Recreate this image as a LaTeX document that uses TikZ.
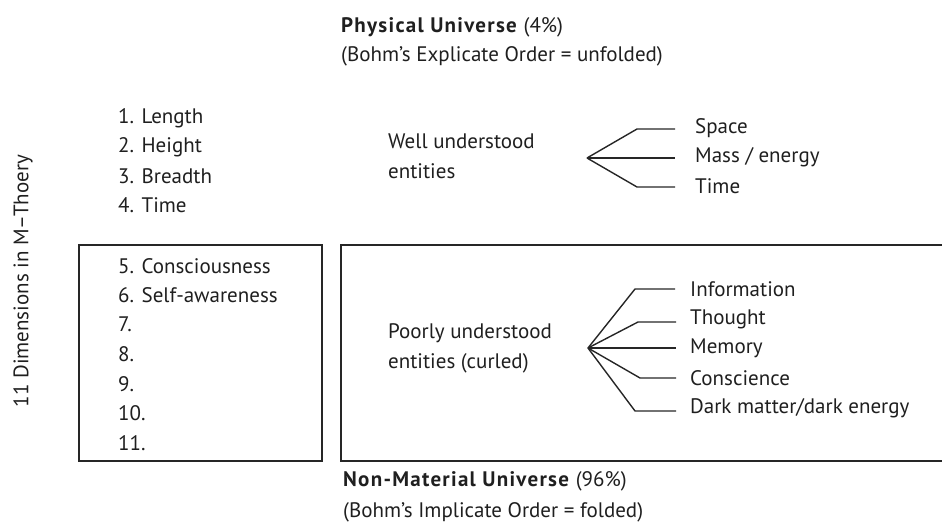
\documentclass[tikz,border=0pt]{standalone}
\usepackage{fontspec}
\setmainfont{PT Sans}[BoldFeatures={LetterSpace=6}]
\begin{document}
\begin{tikzpicture}[x=1pt,y=-1pt,
  txt/.style={anchor=west,inner sep=0pt,text=black!88,font=\fontsize{21}{30}\selectfont},
  boxline/.style={line width=2pt,draw=black!85},
  branch/.style={line width=1.4pt,draw=black!85}]
\useasboundingbox (0,0) rectangle (942,527);
% titles
\node[txt] (phys) at (341,27) {\textbf{Physical Universe} (4\%)};
\node[txt] (expl) at (341,56) {(Bohm’s Explicate Order = unfolded)};
\node[txt] (nonm) at (343,481) {\textbf{Non-Material Universe} (96\%)};
\node[txt] (impl) at (343,512) {(Bohm’s Implicate Order = folded)};
% side label
\node[txt,anchor=center,rotate=90] (dims) at (23,281) {11 Dimensions in M–Thoery};
% list
\node[txt] (d1) at (118,118) {1. Length};
\node[txt] (d2) at (118,147) {2. Height};
\node[txt] (d3) at (118,176) {3. Breadth};
\node[txt] (d4) at (118,205) {4. Time};
\node[txt] (d5) at (118,266) {5. Consciousness};
\node[txt] (d6) at (118,295) {6. Self-awareness};
\node[txt] (d7) at (118,324) {7.};
\node[txt] (d8) at (118,354) {8.};
\node[txt] (d9) at (118,384) {9.};
\node[txt] (d10) at (118,413) {10.};
\node[txt] (d11) at (118,443) {11.};
% boxes
\draw[boxline] (79,245) rectangle (322,461);
\draw[boxline] (942,245) -- (341,245) -- (341,461) -- (942,461);
% upper group
\node[txt,align=left] (well) at (388,156) {Well understood\\entities};
\coordinate (ua) at (587,158);
\node[txt] (space) at (695,128) {Space};
\node[txt] (mass) at (695,157) {Mass / energy};
\node[txt] (time) at (695,186) {Time};
\coordinate (uk1) at (637,129);
\coordinate (uk3) at (637,187);
\draw[branch] (ua) -- (uk1) -- (675,129);
\draw[branch] (ua) -- (675,158);
\draw[branch] (ua) -- (uk3) -- (675,187);
% lower group
\node[txt,align=left] (poor) at (388,348) {Poorly understood\\entities (curled)};
\coordinate (la) at (588,348);
\node[txt] (info) at (690,289) {Information};
\node[txt] (thou) at (690,319) {Thought};
\node[txt] (memo) at (690,348) {Memory};
\node[txt] (cons) at (690,378) {Conscience};
\node[txt] (dark) at (690,408) {Dark matter/dark energy};
\coordinate (lk1) at (635,289);
\coordinate (lk2) at (638,322);
\coordinate (lk4) at (640,378);
\coordinate (lk5) at (635,411);
\draw[branch] (la) -- (lk1) -- (675,289);
\draw[branch] (la) -- (lk2) -- (676,322);
\draw[branch] (la) -- (676,348);
\draw[branch] (la) -- (lk4) -- (676,378);
\draw[branch] (la) -- (lk5) -- (676,411);
\end{tikzpicture}
\end{document}
